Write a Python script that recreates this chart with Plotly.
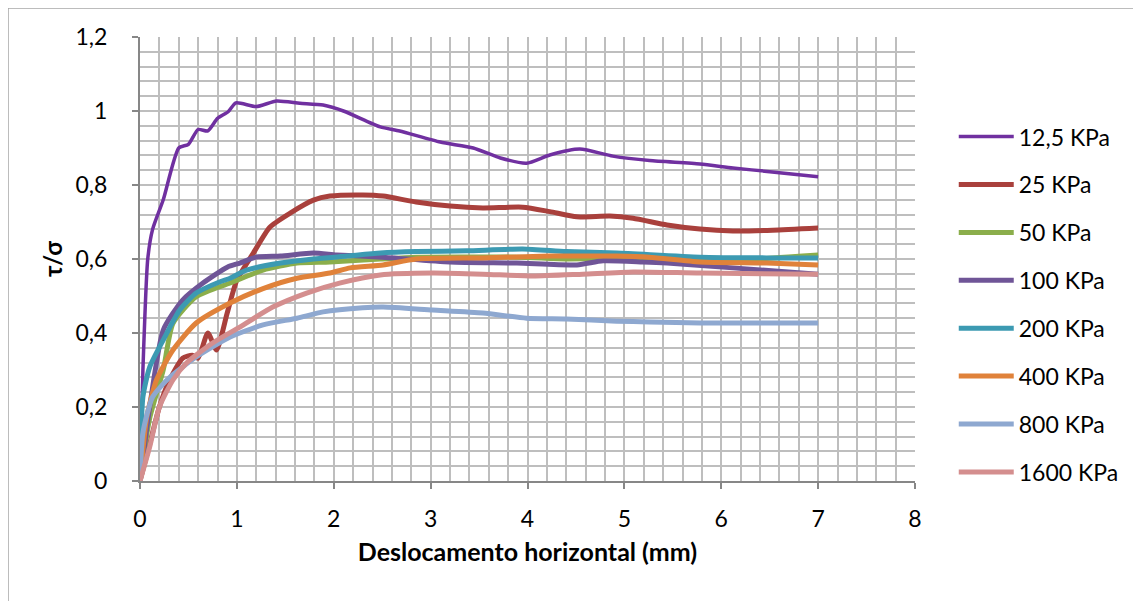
import plotly.graph_objects as go

names = ["12,5 KPa", "25 KPa", "50 KPa", "100 KPa", "200 KPa", "400 KPa", "800 KPa", "1600 KPa"]
colors = ["#7030A0", "#A9403C", "#8BAE4B", "#6F5597", "#3C9AB2", "#E0823A", "#8EA8D0", "#D48E8E"]
widths = [3.5, 5, 5, 5, 5, 5, 5, 5]

x_125 = [0, 0.03, 0.08, 0.13, 0.24, 0.40, 0.5, 0.6, 0.7, 0.8, 0.91, 0.99, 1.2, 1.41, 1.65, 1.89, 2.1, 2.48, 2.68, 3.1, 3.44, 3.72, 3.99, 4.23, 4.54, 4.88, 5.26, 5.78, 6.12, 6.5, 7.0]
y_125 = [0, 0.3, 0.6, 0.68, 0.76, 0.90, 0.91, 0.95, 0.946, 0.98, 0.998, 1.022, 1.012, 1.027, 1.021, 1.016, 1.0, 0.957, 0.946, 0.916, 0.9, 0.873, 0.859, 0.881, 0.897, 0.878, 0.866, 0.857, 0.846, 0.836, 0.822]

x_25 = [0, 0.1, 0.2, 0.3, 0.44, 0.54, 0.6, 0.7, 0.79, 0.9, 1.0, 1.17, 1.34, 1.55, 1.79, 1.96, 2.3, 2.51, 2.85, 3.2, 3.54, 3.95, 4.23, 4.51, 4.85, 5.09, 5.44, 5.78, 6.12, 6.53, 7.0]
y_25 = [0, 0.1, 0.2, 0.27, 0.332, 0.34, 0.332, 0.40, 0.354, 0.454, 0.543, 0.616, 0.686, 0.724, 0.759, 0.77, 0.773, 0.77, 0.754, 0.743, 0.738, 0.74, 0.728, 0.714, 0.716, 0.71, 0.692, 0.681, 0.676, 0.678, 0.684]

x_50 = [0, 0.1, 0.24, 0.34, 0.58, 0.93, 1.27, 1.62, 1.96, 2.48, 2.85, 3.89, 4.4, 4.92, 5.44, 6.12, 7.0]
y_50 = [0, 0.17, 0.3, 0.426, 0.498, 0.535, 0.57, 0.589, 0.592, 0.6, 0.605, 0.605, 0.6, 0.602, 0.6, 0.597, 0.611]

x_100 = [0, 0.1, 0.24, 0.44, 0.65, 0.9, 1.03, 1.2, 1.45, 1.79, 2.03, 2.5, 3.2, 3.89, 4.51, 4.78, 5.19, 5.44, 6.12, 7.0]
y_100 = [0, 0.2, 0.408, 0.489, 0.535, 0.578, 0.589, 0.605, 0.608, 0.616, 0.611, 0.605, 0.592, 0.589, 0.584, 0.595, 0.592, 0.589, 0.576, 0.559]

x_200 = [0, 0.03, 0.1, 0.24, 0.41, 0.58, 0.82, 0.93, 1.1, 1.45, 1.79, 2.14, 2.48, 2.85, 3.37, 3.95, 4.4, 4.92, 5.78, 6.47, 7.0]
y_200 = [0, 0.227, 0.308, 0.381, 0.462, 0.508, 0.538, 0.548, 0.57, 0.589, 0.6, 0.608, 0.616, 0.62, 0.622, 0.627, 0.62, 0.616, 0.605, 0.603, 0.603]

x_400 = [0, 0.07, 0.17, 0.34, 0.58, 0.93, 1.27, 1.62, 1.96, 2.17, 2.51, 2.85, 3.54, 4.23, 4.92, 5.26, 5.78, 6.47, 7.0]
y_400 = [0, 0.173, 0.273, 0.354, 0.427, 0.481, 0.52, 0.548, 0.562, 0.576, 0.584, 0.6, 0.603, 0.608, 0.608, 0.605, 0.592, 0.589, 0.584]

x_800 = [0, 0.03, 0.13, 0.31, 0.58, 0.93, 1.27, 1.62, 1.89, 2.3, 2.51, 3.02, 3.54, 3.99, 4.4, 4.92, 5.26, 5.78, 7.0]
y_800 = [0, 0.13, 0.227, 0.281, 0.335, 0.389, 0.422, 0.44, 0.457, 0.468, 0.47, 0.462, 0.454, 0.44, 0.438, 0.432, 0.43, 0.427, 0.427]

x_1600 = [0, 0.1, 0.2, 0.34, 0.48, 0.75, 1.03, 1.37, 1.72, 2.06, 2.48, 3.02, 3.54, 4.06, 4.57, 5.09, 5.78, 7.0]
y_1600 = [0, 0.092, 0.2, 0.273, 0.319, 0.373, 0.416, 0.47, 0.508, 0.535, 0.557, 0.562, 0.559, 0.554, 0.559, 0.565, 0.562, 0.559]

xs = [x_125, x_25, x_50, x_100, x_200, x_400, x_800, x_1600]
ys = [y_125, y_25, y_50, y_100, y_200, y_400, y_800, y_1600]

x_ticks = [0, 1, 2, 3, 4, 5, 6, 7, 8]
x_ticktext = ["0", "1", "2", "3", "4", "5", "6", "7", "8"]
y_ticks = [0, 0.2, 0.4, 0.6, 0.8, 1.0, 1.2]
y_ticktext = ["0", "0,2", "0,4", "0,6", "0,8", "1", "1,2"]

x_title = "Deslocamento horizontal (mm)"
y_title = "τ/σ"

FONT = "Lato"
GRID = "#BEBEBE"
AXIS = "#878787"

# page body has an 8px margin; compensate so the plot area lands at 140..915 x 37..481
L, T = 132, 29
PW, PH = 775, 444

fig = go.Figure()
for i in range(len(names)):
    fig.add_trace(go.Scatter(
        x=xs[i], y=ys[i], mode="lines", name=names[i],
        legendgroup=names[i],
        line=dict(color=colors[i], width=widths[i], shape="spline", smoothing=0.6),
    ))

fig.update_layout(
    width=1141, height=601,
    margin=dict(l=L, r=1141 - L - PW, t=T, b=601 - T - PH),
    paper_bgcolor="white", plot_bgcolor="white",
    font=dict(family=FONT, size=23, color="black"),
    showlegend=True,
    legend=dict(
        x=1.05, xanchor="left", y=0.824, yanchor="top",
        font=dict(family=FONT, size=23, color="black"),
        tracegroupgap=15, itemwidth=55,
        bgcolor="rgba(0,0,0,0)",
    ),
    xaxis=dict(
        range=[0, 8], tickvals=x_ticks, ticktext=x_ticktext,
        showgrid=True, gridcolor=GRID, gridwidth=2,
        showline=True, linecolor=AXIS, linewidth=2,
        ticks="outside", ticklen=6, tickcolor=AXIS, tickwidth=2,
        ticklabelstandoff=10,
        minor=dict(dtick=0.2, showgrid=True, gridcolor=GRID, gridwidth=2),
        zeroline=False,
        title=dict(text="<b>" + x_title + "</b>", font=dict(family=FONT, size=25), standoff=13),
        tickfont=dict(family=FONT, size=23),
    ),
    yaxis=dict(
        range=[0, 1.2], tickvals=y_ticks, ticktext=y_ticktext,
        showgrid=True, gridcolor=GRID, gridwidth=2,
        showline=True, linecolor=AXIS, linewidth=2,
        ticks="outside", ticklen=6, tickcolor=AXIS, tickwidth=2,
        ticklabelstandoff=20,
        minor=dict(dtick=0.04, showgrid=True, gridcolor=GRID, gridwidth=2),
        zeroline=False,
        title=dict(text="<b>" + y_title + "</b>", font=dict(family=FONT, size=24), standoff=6),
        tickfont=dict(family=FONT, size=23),
    ),
    shapes=[dict(type="rect", xref="paper", yref="paper",
                 x0=-L / PW, x1=(1141 - L + 5) / PW,
                 y0=-(601 - T - PH + 5) / PH, y1=(PH + T) / PH,
                 line=dict(color="#A6A6A6", width=1.5), layer="below")],
)

fig.write_html("out.html")
